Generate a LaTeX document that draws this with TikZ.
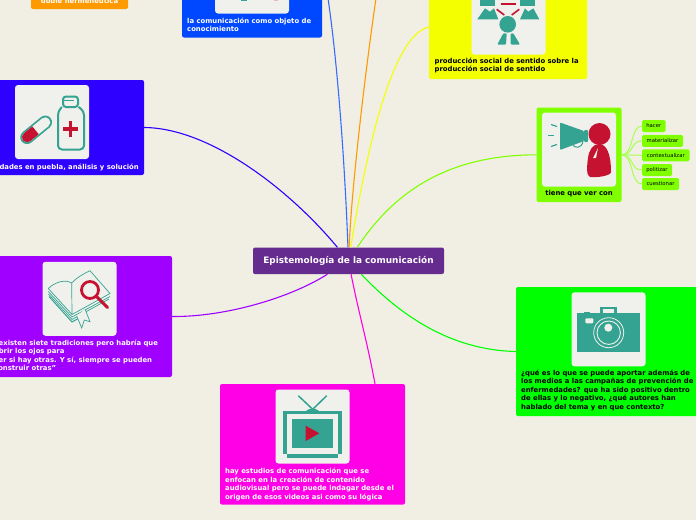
\documentclass[tikz,border=0pt]{standalone}
\usepackage{fontspec}
\setmainfont{DejaVu Sans}
\definecolor{paper}{HTML}{F1EFE3}
\definecolor{tile}{HTML}{F0F1EC}
\definecolor{teal1}{HTML}{35A392}
\definecolor{red1}{HTML}{C41230}
\definecolor{mainc}{HTML}{662B8F}
\definecolor{orangec}{HTML}{FF9900}
\definecolor{bluec}{HTML}{0048FF}
\definecolor{indigoc}{HTML}{2E00FF}
\definecolor{yellowc}{HTML}{F4FF00}
\definecolor{limec}{HTML}{80FF00}
\definecolor{greenc}{HTML}{00FF00}
\definecolor{magentac}{HTML}{FF00E6}
\definecolor{purplec}{HTML}{A000FF}
\definecolor{twig}{HTML}{A8FF55}
\tikzset{
    box/.style={rounded corners=2pt, inner sep=0pt},
    tilebox/.style={fill=tile, rounded corners=3pt, inner sep=0pt, minimum width=74pt, minimum height=74pt},
    boxlabel/.style={inner sep=0pt, align=left, font=\fontsize{6.85}{8.6}\selectfont\bfseries},
    leaf/.style={fill=limec, rounded corners=1.5pt, inner sep=0pt, minimum height=12pt, font=\fontsize{5.3}{6}\selectfont},
    link/.style={line width=1.1pt},
    twigline/.style={draw=twig, line width=1pt}
}
\begin{document}
\begin{tikzpicture}[x=1pt, y=-1pt]
    \useasboundingbox[fill=paper] (0, 0) rectangle (696, 520);
    % boxes
    \node[box, fill=mainc, minimum width=191pt, minimum height=26.5pt, text=white, font=\fontsize{8.9}{10}\selectfont\bfseries] (main) at (348.5, 260.8) {Epistemología de la comunicación};
    \node[box, fill=orangec, minimum width=97pt, minimum height=19pt] (orangebox) at (79.5, -0.5) {};
    \node[box, fill=bluec, minimum width=140pt, minimum height=104pt] (bluebox) at (252, -14.5) {};
    \node[box, fill=indigoc, minimum width=244pt, minimum height=95pt] (indigobox) at (22, 127.5) {};
    \node[box, fill=yellowc, minimum width=158pt, minimum height=104pt] (yellowbox) at (508, 27) {};
    \node[box, fill=limec, minimum width=85pt, minimum height=94.5pt] (limebox) at (579, 154.8) {};
    \node[box, fill=greenc, minimum width=264pt, minimum height=129pt] (greenbox) at (648, 351.5) {};
    \node[box, fill=magentac, minimum width=185pt, minimum height=120.5pt] (magentabox) at (312.5, 444.3) {};
    \node[box, fill=purplec, minimum width=272pt, minimum height=121pt] (purplebox) at (36, 316.5) {};
    % tiles
    \node[tilebox] (bluetile) at (252, -23.5) {};
    \node[tilebox] (indigotile) at (52, 122) {};
    \node[tilebox] (yellowtile) at (508.5, 17.5) {};
    \node[tilebox] (limetile) at (579, 149.5) {};
    \node[tilebox] (greentile) at (608.5, 329.3) {};
    \node[tilebox] (magentatile) at (312.5, 426.5) {};
    \node[tilebox] (purpletile) at (79.5, 298.8) {};
    % labels
    \node[boxlabel, text=white] (orangelabel) at (79.5, 0.5) {doble hermenéutica};
    \node[boxlabel, text=white, anchor=north west] (bluelabel) at (187, 17.5) {la comunicación como objeto de\\conocimiento};
    \node[boxlabel, text=white, anchor=north east] (indigolabel) at (139, 163.5) {dades en puebla, análisis y solución};
    \node[boxlabel, anchor=north west] (yellowlabel) at (434.5, 57.5) {producción social de sentido sobre la\\producción social de sentido};
    \node[boxlabel, anchor=north] (limelabel) at (579, 190.5) {tiene que ver con};
    \node[boxlabel, anchor=north west] (greenlabel) at (521, 369.5) {¿qué es lo que se puede aportar además de\\los medios a las campañas de prevención de\\enfermedades? que ha sido positivo dentro\\de ellas y lo negativo, ¿qué autores han\\hablado del tema y en que contexto?};
    \node[boxlabel, text=white, anchor=north west] (magentalabel) at (225, 468) {hay estudios de comunicación que se\\enfocan en la creación de contenido\\audiovisual pero se puede indagar desde el\\origen de esos videos asi como su lógica};
    \node[boxlabel, text=white, anchor=north west] (purplelabel) at (-6, 339.5) {"existen siete tradiciones pero habría que\\abrir los ojos para\\ver si hay otras. Y sí, siempre se pueden\\construir otras"};
    % leaves
    \node[leaf, minimum width=23.5pt] (hacer) at (653.8, 126) {hacer};
    \node[leaf, minimum width=41pt] (materializar) at (662.5, 140.8) {materializar};
    \node[leaf, minimum width=47.5pt] (contextualizar) at (665.8, 155.3) {contextualizar};
    \node[leaf, minimum width=30pt] (politizar) at (657, 170) {politizar};
    \node[leaf, minimum width=37pt] (cuestionar) at (660.5, 184) {cuestionar};
    % connectors
    \coordinate (bluefree) at (326, -15);
    \coordinate (orangefree) at (378, -15);
    \coordinate (magentaend) at (375, 384);
    \coordinate (yellowend) at (yellowbox.west);
    \draw[link, indigoc] (indigobox.east) .. controls (210, 128) and (290, 190) .. (main);
    \draw[link, bluec!80!white] (bluefree) .. controls (338, 60) and (345, 170) .. (main);
    \draw[link, orangec] (orangefree) .. controls (368, 50) and (352, 180) .. (main);
    \draw[link, yellowc] (yellowend) .. controls (395, 35) and (370, 130) .. (main);
    \draw[link, limec] (limebox.west) .. controls (450, 155) and (395, 190) .. (main);
    \draw[link, greenc] (greenbox.west) .. controls (450, 350) and (400, 315) .. (main);
    \draw[link, magentac] (magentaend) .. controls (368, 345) and (358, 310) .. (main);
    \draw[link, purplec] (purplebox.east) .. controls (225, 317) and (290, 298) .. (main);
    \draw[twigline] (limebox.east) .. controls (634, 155) and (630, 126) .. (hacer.west);
    \draw[twigline] (limebox.east) .. controls (634, 155) and (630, 141) .. (materializar.west);
    \draw[twigline] (limebox.east) -- (contextualizar.west);
    \draw[twigline] (limebox.east) .. controls (634, 155) and (630, 170) .. (politizar.west);
    \draw[twigline] (limebox.east) .. controls (634, 155) and (630, 184) .. (cuestionar.west);
    % icon bits in the blue tile
    \fill[teal1] (241, 0) rectangle (247, 1.2);
    \fill[red1!25!tile] (274, 0) rectangle (278, 1);
    % people
    \fill[teal1] (480, -3) rectangle (495, 5.5);
    \fill[teal1] (520, -3) rectangle (535, 5.5);
    \fill[teal1] (477.3, 19.3) -- (485, 8.3) -- (490, 11.7) -- (494, 8.3) -- (498.3, 19.3) -- cycle;
    \fill[teal1] (520, 19.3) -- (525, 8.3) -- (528.3, 11.7) -- (533.3, 8.3) -- (539.3, 19.3) -- cycle;
    \fill[teal1] (507.7, 24.3) circle (8.3);
    \fill[teal1, rounded corners=1pt] (497.3, 44.5) -- (503.3, 33.3) -- (506.7, 33.3) -- (506, 44.5) -- cycle;
    \fill[teal1, rounded corners=1pt] (510.7, 33.3) -- (513.3, 33.3) -- (520, 44.5) -- (510.7, 44.5) -- cycle;
    \draw[red1, line width=1.6pt] (500.7, 4) -- (516, 4);
    \draw[red1, line width=1.6pt] (496.7, 9.3) -- (504.3, 15);
    \draw[red1, line width=1.6pt] (519.3, 9.3) -- (511.7, 15);
    % megaphone
    \fill[teal1, rounded corners=1pt] (560, 122.5) -- (584, 131) -- (584, 141) -- (560, 150) -- cycle;
    \fill[teal1, rounded corners=1pt] (584, 130) rectangle (588, 142);
    \draw[teal1, line width=1pt] (572, 143.5) .. controls (574, 149) and (582, 149) .. (583, 141);
    \draw[teal1, line width=1.2pt] (551, 124.5) -- (557, 126.5);
    \draw[teal1, line width=1.2pt] (547.5, 135.5) -- (554, 135.5);
    \draw[teal1, line width=1.2pt] (551, 146.5) -- (557, 144.5);
    \fill[red1] (599.5, 134) circle (11);
    \fill[red1] (599, 144) .. controls (607, 144) and (611, 155) .. (611, 172) .. controls (611, 176) and (595, 178) .. (590, 177) .. controls (586, 176) and (587, 165) .. (588, 158) .. controls (589, 150) and (593, 144) .. (599, 144) -- cycle;
    \fill[tile] (593, 158) -- (598, 148) -- (596, 158) -- cycle;
    % camera
    \fill[teal1] (577.3, 313.3) rectangle (640.3, 352.3);
    \fill[teal1] (584, 312) rectangle (590, 314);
    \fill[teal1] (600, 306.7) rectangle (617.3, 314);
    \fill[tile] (602.7, 309) rectangle (614, 313.3);
    \fill[tile, rounded corners=1pt] (585.3, 318.3) rectangle (593.3, 323.3);
    \draw[tile, line width=0.8pt] (608.7, 332.7) circle (15);
    \draw[tile, line width=0.9pt] (608.7, 332.7) circle (11.7);
    \fill[tile] (608.3, 327.7) circle (4);
    % television
    \draw[teal1, line width=1.5pt] (298.3, 395.7) -- (312.7, 409.3);
    \draw[teal1, line width=1.5pt] (326.7, 395.7) -- (312.7, 409.3);
    \fill[teal1] (306, 411) .. controls (308, 408) and (317, 408) .. (319, 411) -- cycle;
    \fill[teal1] (283.3, 410.7) rectangle (342, 454);
    \fill[teal1] (287.3, 454) rectangle (338, 458.3);
    \fill[tile] (287.3, 414) rectangle (338, 454);
    \fill[teal1] (292.3, 418.7) rectangle (332.7, 448.3);
    \fill[red1] (305.7, 425.7) -- (319.3, 433.3) -- (305.7, 441) -- cycle;
    % pill and bottle
    \draw[teal1, line width=2pt, rounded corners=4pt] (62, 107) -- (58, 111) -- (58, 149.5) -- (84, 149.5) -- (84, 111) -- (78.5, 107);
    \draw[teal1, line width=2pt, rounded corners=3pt] (63, 107) -- (63, 96.5) -- (78, 96.5) -- (78, 107) -- cycle;
    \draw[teal1, line width=1.2pt] (63, 100.5) -- (74, 100.5);
    \fill[red1] (68.5, 121) rectangle (72.3, 137);
    \fill[red1] (62.5, 127) rectangle (78.3, 131);
    \draw[teal1, line width=13.5pt, line cap=round] (27, 137.3) -- (45.3, 122.3);
    \draw[tile, line width=10pt, line cap=round] (27, 137.3) -- (45.3, 122.3);
    \draw[red1, line width=10pt, line cap=round] (27, 137.3) -- (31, 134);
    \draw[red1, line width=10pt] (31, 134) -- (35.5, 130.3);
    % book
    \draw[teal1, line width=0.7pt] (48.3, 291.5) -- (72, 317) -- (110, 296.5);
    \draw[teal1, line width=0.7pt] (48.5, 294) -- (72, 319.5) -- (109, 299);
    \draw[teal1, line width=1pt] (49, 296.5) -- (72, 322) -- (80, 317.5);
    \draw[teal1, line width=0.7pt] (48.3, 288.5) .. controls (55, 282) and (65, 279) .. (71.7, 283) .. controls (76, 278) and (83, 274) .. (90, 270.7) -- (110, 293.5) -- (72, 314.5) -- cycle;
    \draw[teal1, line width=0.7pt] (71.7, 283) -- (72, 314.5);
    \fill[tile] (76.7, 316) -- (81.7, 328) -- (84.3, 320) -- (90, 321.7) -- (85, 309) -- cycle;
    \draw[teal1, line width=0.7pt] (76.7, 316) -- (81.7, 328) -- (84.3, 320) -- (90, 321.7) -- (85, 309);
    \draw[red1, line width=2.8pt] (90, 290) circle (8.5);
    \draw[red1, line width=3pt, line cap=round] (96.5, 296.5) -- (107.5, 307.5);
\end{tikzpicture}
\end{document}
